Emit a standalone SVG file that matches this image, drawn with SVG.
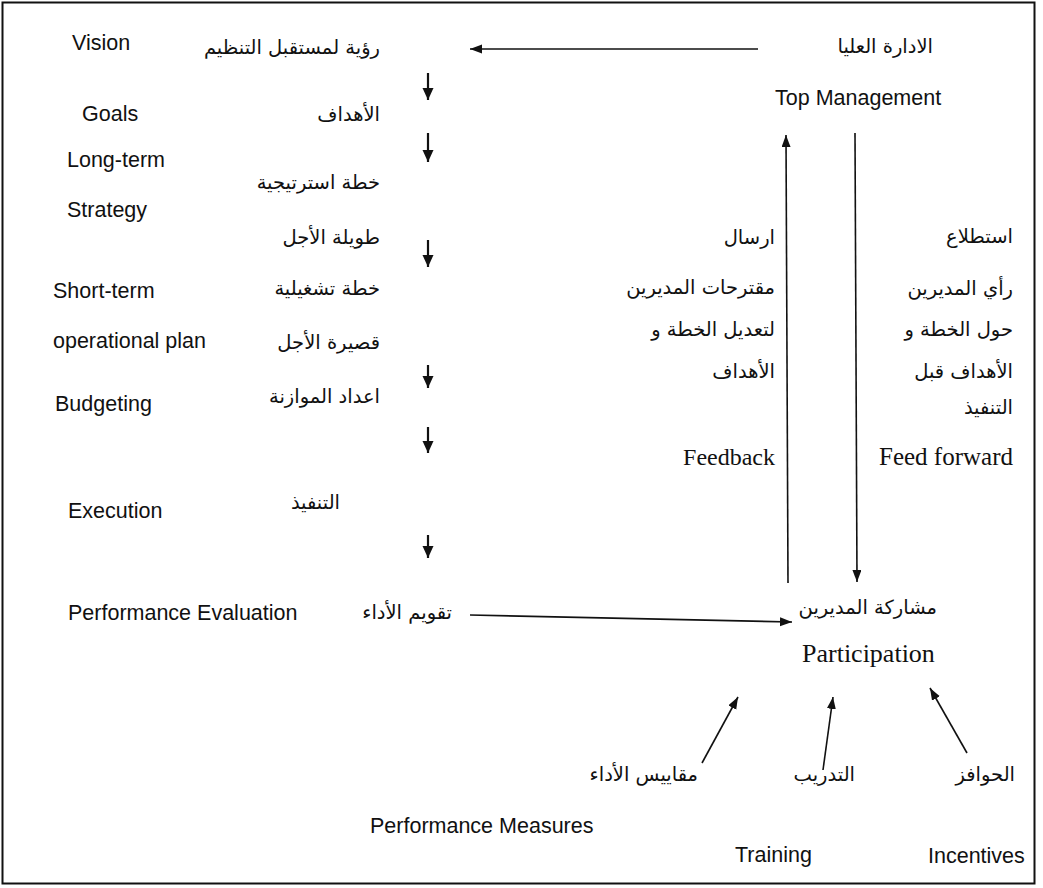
<svg xmlns="http://www.w3.org/2000/svg" width="1043" height="888" viewBox="0 0 1043 888">
<defs>
<style>
.lat{font-family:"Liberation Sans",Arial,sans-serif;font-size:21.5px;fill:#111}
.ser{font-family:"Liberation Serif","Times New Roman",serif;fill:#111}
.ar{font-family:"DejaVu Sans","Noto Sans",sans-serif;font-size:19.5px;fill:#111;text-anchor:end}
.c{stroke:#111;stroke-width:1.6;fill:none}
.c2{stroke:#111;stroke-width:2.2;fill:none}
</style>
<marker id="ah" markerUnits="userSpaceOnUse" markerWidth="13" markerHeight="10" refX="12" refY="4.5" orient="auto">
<path d="M0,0 L12,4.5 L0,9 z" fill="#111"/>
</marker>
<marker id="ahb" markerUnits="userSpaceOnUse" markerWidth="13" markerHeight="12" refX="12" refY="5.5" orient="auto">
<path d="M0,0 L12,5.5 L0,11 z" fill="#111"/>
</marker>
</defs>
<rect x="0" y="0" width="1043" height="888" fill="#fff"/>
<rect x="2.5" y="2.5" width="1032" height="881" fill="none" stroke="#111" stroke-width="2"/>

<g id="connectors">
<line class="c" x1="758" y1="49" x2="470" y2="49" marker-end="url(#ah)"/>
<line class="c2" x1="428" y1="73" x2="428" y2="100" marker-end="url(#ahb)"/>
<line class="c2" x1="428" y1="133" x2="428" y2="162" marker-end="url(#ahb)"/>
<line class="c2" x1="428" y1="240" x2="428" y2="267" marker-end="url(#ahb)"/>
<line class="c2" x1="428" y1="365" x2="428" y2="388" marker-end="url(#ahb)"/>
<line class="c2" x1="428" y1="427" x2="428" y2="453" marker-end="url(#ahb)"/>
<line class="c2" x1="428" y1="535" x2="428" y2="558" marker-end="url(#ahb)"/>
<line class="c" x1="470" y1="615" x2="792" y2="622" marker-end="url(#ah)"/>
<line class="c" x1="788" y1="583" x2="786" y2="135" marker-end="url(#ah)"/>
<line class="c" x1="855" y1="133" x2="857" y2="582" marker-end="url(#ah)"/>
<line class="c" x1="702" y1="763" x2="738" y2="697" marker-end="url(#ah)"/>
<line class="c" x1="823" y1="770" x2="833" y2="697" marker-end="url(#ah)"/>
<line class="c" x1="967" y1="753" x2="930" y2="688" marker-end="url(#ah)"/>
</g>

<g id="vision"><text class="lat" x="72" y="50">Vision</text><text class="ar" x="380" y="54">رؤية لمستقبل التنظيم</text></g>
<g id="goals"><text class="lat" x="82" y="121">Goals</text><text class="ar" x="380" y="121">الأهداف</text></g>
<g id="strategy"><text class="lat" x="67" y="167">Long-term</text><text class="lat" x="67" y="217">Strategy</text><text class="ar" x="380" y="189">خطة استرتيجية</text><text class="ar" x="380" y="244">طويلة الأجل</text></g>
<g id="operational"><text class="lat" x="53" y="298">Short-term</text><text class="lat" x="53" y="348">operational plan</text><text class="ar" x="380" y="295">خطة تشغيلية</text><text class="ar" x="380" y="349">قصيرة الأجل</text></g>
<g id="budgeting"><text class="lat" x="55" y="411">Budgeting</text><text class="ar" x="380" y="403">اعداد الموازنة</text></g>
<g id="execution"><text class="lat" x="68" y="518">Execution</text><text class="ar" x="340" y="509">التنفيذ</text></g>
<g id="evaluation"><text class="lat" x="68" y="620">Performance Evaluation</text><text class="ar" x="452" y="619">تقويم الأداء</text></g>
<g id="top-management"><text class="ar" x="933" y="53">الادارة العليا</text><text class="lat" x="775" y="105">Top Management</text></g>
<g id="feedback"><text class="ar" x="775" y="244">ارسال</text><text class="ar" x="775" y="294">مقترحات المديرين</text><text class="ar" x="775" y="336">لتعديل الخطة و</text><text class="ar" x="775" y="378">الأهداف</text><text class="ser" x="775" y="465" font-size="24" text-anchor="end">Feedback</text></g>
<g id="feed-forward"><text class="ar" x="1013" y="243">استطلاع</text><text class="ar" x="1013" y="295">رأي المديرين</text><text class="ar" x="1013" y="336">حول الخطة و</text><text class="ar" x="1013" y="378">الأهداف قبل</text><text class="ar" x="1013" y="414">التنفيذ</text><text class="ser" x="1013" y="465" font-size="25" text-anchor="end">Feed forward</text></g>
<g id="participation"><text class="ar" x="937" y="614">مشاركة المديرين</text><text class="ser" x="802" y="662" font-size="26">Participation</text></g>
<g id="measures"><text class="ar" x="698" y="781">مقاييس الأداء</text><text class="lat" x="370" y="833">Performance Measures</text></g>
<g id="training"><text class="ar" x="855" y="781">التدريب</text><text class="lat" x="735" y="862">Training</text></g>
<g id="incentives"><text class="ar" x="1015" y="781">الحوافز</text><text class="lat" x="928" y="863">Incentives</text></g>
</svg>
